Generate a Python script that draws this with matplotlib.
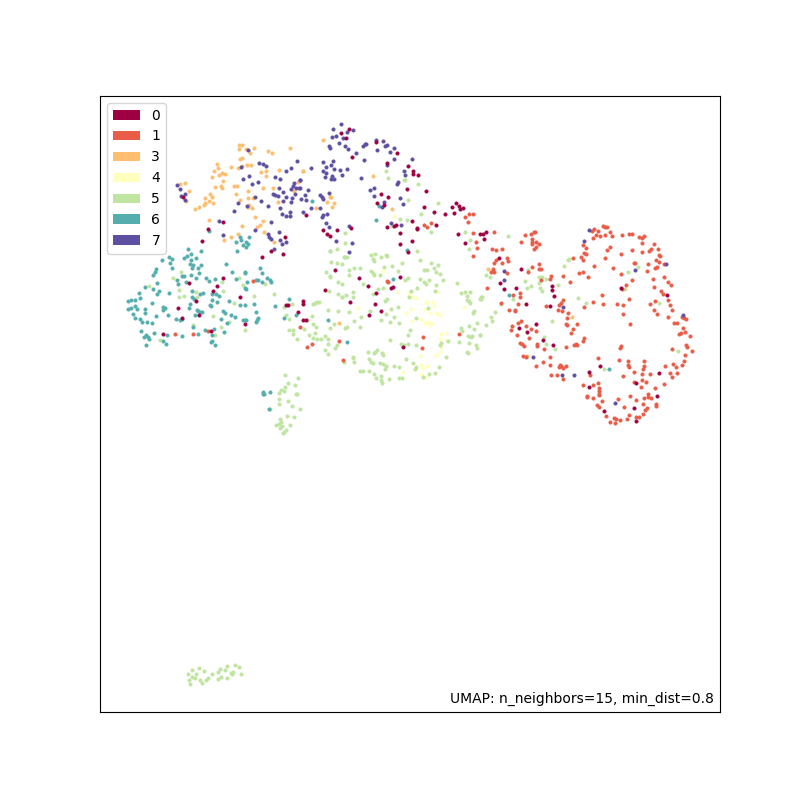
import numpy as np
import matplotlib
matplotlib.use("Agg")
import matplotlib.pyplot as plt
from matplotlib.patches import Patch

categories = ["0", "1", "3", "4", "5", "6", "7"]

# Points, region by region: (x, y) at 3x scale from each region's corner
origin_a = (100, 100)
origin_b = (300, 110)
origin_c = (110, 240)
origin_d = (300, 240)
origin_e = (480, 220)
origin_f = (170, 650)

a_3 = [(417,134),(426,134),(417,148),(437,148),(461,143),(449,158),(503,152),(515,159),(569,145),(426,174),(420,178),(352,192),(354,203),(392,200),(342,212),(414,205),(427,198),(442,195),(452,194),(536,210),(484,215),(497,213),(337,232),(357,224),(365,220),(376,221),(368,242),(497,227),(240,252),(255,249),(267,272),(346,261),(364,259),(367,265),(401,258),(412,258),(443,273),(490,264),(519,264),(583,272),(593,247),(407,282),(330,281),(337,291),(316,293),(443,293),(458,293),(420,301),(328,304),(340,308),(316,308),(313,315),(296,322),(286,328),(257,304),(448,314),(444,322),(457,325),(535,306),(464,352),(326,359),(490,364),(481,374),(472,381),(427,378),(493,397),(415,402),(393,411),(372,421),(522,426),(608,212)]
a_7 = [(445,149),(592,182),(476,188),(488,191),(499,197),(424,202),(572,203),(559,212),(447,227),(428,238),(525,230),(540,236),(600,240),(475,247),(456,252),(583,248),(580,257),(588,263),(597,264),(574,268),(232,254),(239,266),(254,282),(244,288),(254,299),(536,264),(548,275),(519,281),(525,286),(535,289),(465,290),(483,302),(413,309),(584,283),(557,292),(550,302),(577,295),(574,305),(504,318),(541,325),(440,317),(402,332),(569,336),(547,342),(557,348),(569,347),(357,362),(513,365),(465,389),(538,395),(370,404),(503,401),(507,411),(514,416),(540,420),(557,426),(546,432),(522,447)]
a_0 = [(249,292),(368,367),(324,388),(305,422),(555,410),(513,452),(549,463),(485,470)]
a_6 = [(327,393),(420,412),(422,420),(409,427),(446,410),(438,425),(445,431),(430,436),(437,440),(412,453),(263,447)]

b_7 = [(124,42),(100,57),(160,61),(140,65),(96,81),(107,79),(128,83),(118,100),(88,108),(91,113),(135,107),(143,117),(168,130),(229,90),(250,94),(199,101),(194,102),(189,107),(261,105),(255,108),(283,114),(230,120),(271,125),(192,150),(281,146),(335,148),(70,157),(99,154),(92,166),(77,171),(32,175),(103,176),(120,180),(140,176),(69,183),(312,184),(79,189),(74,200),(126,196),(97,199),(93,208),(102,208),(183,203),(314,194),(262,165),(294,217),(290,223),(223,235),(211,241),(222,257),(25,241),(60,256),(65,262),(68,268),(88,248),(16,256),(18,269),(2,267),(1,209),(1,234),(253,277),(300,264),(309,283),(247,290),(33,293),(61,293),(8,306),(81,311),(68,316),(67,322),(79,338),(87,351),(147,348),(272,340),(304,344),(107,394),(155,398)]
b_0 = [(146,57),(124,69),(139,83),(157,141),(229,95),(290,130),(260,160),(324,167),(338,184),(340,193),(353,195),(321,236),(377,242),(264,260),(242,252),(231,279),(251,284),(372,292),(402,307),(434,311),(456,291),(468,278),(478,287),(488,294),(481,298),(461,309),(19,314),(335,333),(407,344),(281,349),(289,345),(260,352),(350,354),(352,356),(153,354),(69,361),(112,360),(82,372),(89,377),(301,368),(474,371),(336,393),(301,402),(494,398)]
b_5 = [(258,182),(265,203),(311,210),(316,211),(353,222),(324,269),(413,279),(364,312),(299,326),(320,331),(275,347),(392,365),(135,368),(135,398),(495,366),(509,389),(508,417),(110,417),(90,422)]
b_3 = [(70,91),(8,182),(219,198),(94,260),(89,262),(101,279),(81,276),(95,292),(49,295),(275,298)]
b_6 = [(37,272),(236,288),(227,331),(322,419)]
b_4 = [(282,317)]
b_1 = [(508,312),(520,312),(496,322),(505,336),(372,344),(380,352),(392,340),(519,368),(529,395),(531,413)]

d_5 = [(90,32),(135,52),(131,52),(140,50),(92,65),(110,70),(126,72),(212,46),(225,43),(218,57),(223,62),(243,52),(257,45),(261,47),(351,34),(359,60),(307,70),(392,68),(413,74),(403,83),(251,80),(275,79),(161,85),(148,90),(179,85),(78,95),(148,105),(213,92),(218,100),(221,106),(241,105),(295,93),(373,89),(381,89),(407,96),(421,103),(89,108),(90,112),(316,119),(324,115),(360,116),(373,125),(386,121),(429,121),(378,131),(115,127),(125,133),(190,133),(409,134),(233,148),(250,143),(351,143),(471,128),(86,153),(160,157),(404,153),(332,154),(115,163),(125,170),(127,172),(139,165),(158,170),(218,162),(327,170),(483,158),(496,155),(509,157),(501,168),(502,180),(506,184),(510,190),(545,170),(542,176),(260,178),(254,183),(40,191),(46,189),(51,187),(58,185),(83,209),(114,213),(146,216),(209,213),(273,206),(295,202),(385,203),(522,212),(520,218),(35,228),(22,241),(183,230),(243,240),(257,223),(282,232),(348,235),(271,245),(297,248),(161,242),(101,251),(38,251),(48,262),(90,263),(135,265),(140,260),(181,260),(11,268),(45,279),(26,284),(39,293),(52,296),(63,296),(75,287),(84,298),(85,312),(110,315),(105,324),(74,331),(84,342),(329,271),(324,284),(270,299),(302,313),(312,314),(325,312),(349,315),(445,302),(423,310),(421,314),(478,306),(484,265),(486,272),(507,258),(521,268),(532,250),(541,285),(504,287),(516,287),(513,292),(507,308),(529,314),(530,323),(500,336),(504,340),(205,336),(230,329),(226,335),(222,340),(247,338),(249,344),(319,358),(437,352),(158,350),(160,354),(162,367),(133,366),(206,357),(213,367),(219,369),(239,368),(250,373),(259,379),(255,386),(281,379),(296,381),(339,370),(348,381),(345,388),(180,392),(190,392),(208,393),(223,403),(228,413),(243,409),(244,420),(247,430),(267,416),(296,413),(305,413),(386,403),(405,400),(417,380),(368,411)]
d_4 = [(250,94),(293,156),(412,156),(328,160),(330,167),(337,170),(349,174),(378,185),(381,190),(400,186),(403,198),(492,202),(173,203),(375,208),(334,208),(390,220),(412,218),(419,224),(317,220),(362,236),(337,243),(375,250),(381,247),(393,250),(391,256),(423,282),(437,279),(421,298),(438,300),(422,320),(420,337),(407,346),(359,349),(363,374),(381,379),(369,385),(363,402),(310,396),(376,410)]
d_0 = [(105,89),(177,115),(300,112),(205,137),(278,140),(272,145),(74,150),(229,159),(149,187),(225,192),(244,212),(208,225),(10,184),(9,193),(8,240),(17,240),(308,321),(325,36)]
d_1 = [(518,48),(261,122),(263,127),(118,302),(370,291),(365,323),(36,313),(20,321),(129,359),(477,282)]
d_6 = [(280,116),(83,240),(142,307)]
d_3 = [(116,248)]
d_7 = [(146,36)]

c_6 = [(273,32),(178,51),(187,57),(156,60),(222,53),(230,47),(242,42),(257,53),(244,61),(181,68),(240,72),(249,74),(272,75),(347,72),(247,84),(137,87),(135,95),(186,84),(263,85),(128,105),(268,99),(243,104),(217,109),(222,109),(365,95),(404,96),(404,99),(451,84),(456,100),(202,120),(205,133),(259,115),(289,113),(296,122),(314,118),(229,125),(379,116),(439,119),(443,119),(471,114),(479,119),(483,125),(412,127),(455,127),(140,129),(106,141),(129,148),(147,154),(140,163),(86,158),(178,160),(246,153),(278,158),(271,161),(305,161),(317,161),(404,145),(408,148),(327,169),(89,173),(76,179),(64,181),(54,184),(246,172),(251,177),(307,180),(321,186),(358,183),(127,190),(76,197),(64,203),(55,208),(82,206),(106,207),(158,200),(165,204),(160,211),(240,193),(236,204),(300,194),(304,199),(391,196),(405,196),(433,191),(495,199),(537,176),(260,210),(265,213),(270,215),(277,215),(68,221),(106,220),(137,228),(175,224),(256,226),(340,214),(346,218),(363,226),(375,230),(438,217),(76,233),(90,236),(96,245),(111,245),(125,248),(199,238),(210,241),(216,238),(333,236),(445,233),(441,240),(398,240),(404,241),(408,240),(350,249),(439,247),(522,234),(558,226),(249,262),(92,272),(132,280),(172,284),(215,288),(265,282),(284,269),(313,266),(341,276),(306,285),(102,292),(109,285),(113,290),(117,298),(307,302),(302,306),(158,303),(169,311),(108,314),(316,316),(460,455),(458,462),(462,462),(481,456),(477,506)]
c_5 = [(117,137),(212,97),(190,115),(206,151),(222,169),(208,172),(259,156),(262,172),(340,153),(336,126),(388,113),(398,134),(464,131),(492,162),(432,168),(373,190),(308,228),(546,192),(521,201),(529,226),(537,238),(249,256),(334,260),(358,245),(405,271),(314,284),(149,300),(538,269),(548,270),(548,283),(561,298),(524,405),(564,413),(533,430),(554,434),(526,440),(514,449),(507,460),(523,453),(558,462),(562,462),(535,482),(508,476),(508,492),(546,497),(571,507),(481,507),(531,527),(553,532),(509,536),(513,547),(507,553),(497,554),(515,557),(539,556),(509,563),(528,571),(523,577),(518,580)]
c_0 = [(237,130),(340,114),(320,137),(308,152),(391,172),(259,183),(203,203),(268,224),(216,235),(303,272),(160,282),(405,251),(528,196),(534,196),(564,215)]
c_1 = [(429,123),(295,273),(194,282),(248,282),(569,261)]

e_1 = [(42,37),(135,44),(154,43),(162,35),(164,37),(124,67),(155,58),(157,65),(156,71),(168,67),(178,73),(168,80),(163,87),(37,88),(48,90),(66,88),(48,119),(82,115),(83,124),(42,130),(66,130),(156,140),(176,131),(183,146),(178,148),(32,155),(40,148),(43,157),(80,158),(145,156),(22,204),(100,226),(120,219),(120,232),(115,253),(62,248),(87,271),(104,272),(106,270),(213,167),(210,178),(183,181),(249,169),(271,185),(298,160),(308,156),(324,170),(278,115),(303,110),(309,119),(310,75),(317,84),(312,100),(318,103),(341,137),(375,115),(380,89),(390,80),(343,26),(337,33),(355,34),(370,18),(375,20),(381,20),(348,46),(340,55),(361,47),(376,45),(389,35),(397,49),(425,44),(447,42),(455,41),(423,102),(457,91),(478,51),(485,53),(491,48),(487,69),(487,95),(506,92),(514,88),(522,73),(533,86),(537,104),(541,108),(527,119),(537,126),(505,132),(461,130),(464,128),(553,133),(526,143),(531,142),(502,153),(400,145),(423,163),(456,181),(438,194),(426,207),(520,178),(553,170),(522,200),(564,187),(572,196),(544,212),(550,222),(524,242),(448,236),(365,226),(340,245),(370,251),(412,253),(429,256),(429,282),(509,252),(521,269),(530,283),(563,241),(571,256),(575,269),(563,291),(583,309),(591,308),(607,292),(612,293),(619,296),(450,312),(610,323),(615,335),(631,347),(604,338),(597,343),(242,250),(250,239),(238,254),(198,258),(265,278),(234,271),(247,272),(311,260),(260,294),(290,313),(257,313),(262,314),(278,327),(273,338),(313,354),(308,364),(287,371),(283,374),(292,374),(258,380),(172,372),(172,378),(193,387),(153,326),(167,334),(138,317),(122,303),(113,310),(95,318),(92,330),(111,345),(147,355),(121,369),(126,373),(131,378),(129,407),(139,412),(210,411),(190,425),(169,437),(209,436),(239,434),(236,440),(244,438),(248,443),(258,437),(214,466),(231,465),(250,476),(353,415),(417,419),(423,377),(420,384),(576,387),(619,375),(622,381),(635,392),(614,406),(611,424),(605,436),(588,441),(578,432),(554,438),(569,458),(590,460),(575,471),(445,422),(491,423),(444,436),(446,442),(492,438),(489,447),(487,462),(461,456),(510,462),(428,467),(486,480),(497,486),(462,487),(484,500),(525,504),(553,491),(309,494),(340,495),(353,490),(357,505),(330,466),(356,514),(356,522),(358,526),(320,527),(322,532),(340,534),(367,544),(413,538),(451,528),(468,541),(503,522),(505,532),(493,534),(514,533),(527,552),(527,557),(488,552),(352,554),(358,561),(432,561),(500,564),(495,570),(490,583),(447,585),(440,597),(477,590),(469,590),(378,589),(389,606),(404,610),(402,593),(408,596),(419,600)]
e_0 = [(0,43),(8,43),(19,36),(13,57),(56,114),(123,147),(60,188),(108,205),(72,207),(138,253),(217,197),(217,211),(222,227),(211,258),(169,313),(118,325),(142,335),(188,360),(220,375),(422,203),(560,225),(359,438),(326,456),(326,500),(467,490),(537,459),(531,528),(462,564),(371,572),(467,603)]
e_7 = [(328,31),(311,64),(72,154),(71,180),(559,132),(465,151),(248,261),(609,284),(160,410),(245,466),(283,466),(405,550)]
e_5 = [(84,48),(268,118),(263,119),(252,138),(145,150),(17,165),(29,171),(176,170),(187,170),(197,177),(135,184),(178,189),(233,196),(152,198),(140,204),(180,204),(186,213),(4,230),(1,236),(99,237),(62,253),(46,275),(32,290),(36,303),(17,316),(1,345),(217,302),(295,235),(317,249),(192,352),(199,373),(224,387),(443,157),(473,142),(436,207),(537,249),(593,393),(373,447)]
e_3 = [(23,147),(276,292),(142,407)]
e_6 = [(88,226),(387,447)]

f_5 = [(66,59),(87,54),(101,63),(54,72),(65,80),(78,72),(76,85),(58,91),(60,101),(91,89),(97,99),(108,91),(115,85),(125,72),(143,65),(149,58),(172,47),(196,44),(208,50),(165,61),(143,86),(152,80),(172,83),(186,71),(190,66),(184,70),(212,73)]

series = {
    "0": [(origin_a, a_0), (origin_b, b_0), (origin_c, c_0), (origin_d, d_0), (origin_e, e_0)],
    "1": [(origin_b, b_1), (origin_c, c_1), (origin_d, d_1), (origin_e, e_1)],
    "3": [(origin_a, a_3), (origin_b, b_3), (origin_d, d_3), (origin_e, e_3)],
    "4": [(origin_b, b_4), (origin_d, d_4)],
    "5": [(origin_b, b_5), (origin_c, c_5), (origin_d, d_5), (origin_e, e_5), (origin_f, f_5)],
    "6": [(origin_a, a_6), (origin_b, b_6), (origin_c, c_6), (origin_d, d_6), (origin_e, e_6)],
    "7": [(origin_a, a_7), (origin_b, b_7), (origin_d, d_7), (origin_e, e_7)],
}

colors = plt.cm.Spectral(np.linspace(0, 1, len(categories)))

fig, ax = plt.subplots(figsize=(8, 8), dpi=100)
draw_order = ["4", "5", "3", "6", "1", "7", "0"]
for cat in draw_order:
    xy = np.vstack([np.array(o) + np.array(p) / 3 for o, p in series[cat]])
    c = colors[categories.index(cat)]
    ax.scatter(xy[:, 0], xy[:, 1], s=7, color=c, edgecolors=c, linewidths=0.2)

ax.set_xlim(100, 720)
ax.set_ylim(712, 96)
ax.set_xticks([])
ax.set_yticks([])
ax.legend(handles=[Patch(facecolor=c, edgecolor="none", linewidth=0, label=l)
                   for c, l in zip(colors, categories)], loc="upper left")
ax.text(0.99, 0.01, "UMAP: n_neighbors=15, min_dist=0.8", transform=ax.transAxes,
        ha="right", va="bottom", fontsize=10)
fig.savefig("out.png", dpi=100)
